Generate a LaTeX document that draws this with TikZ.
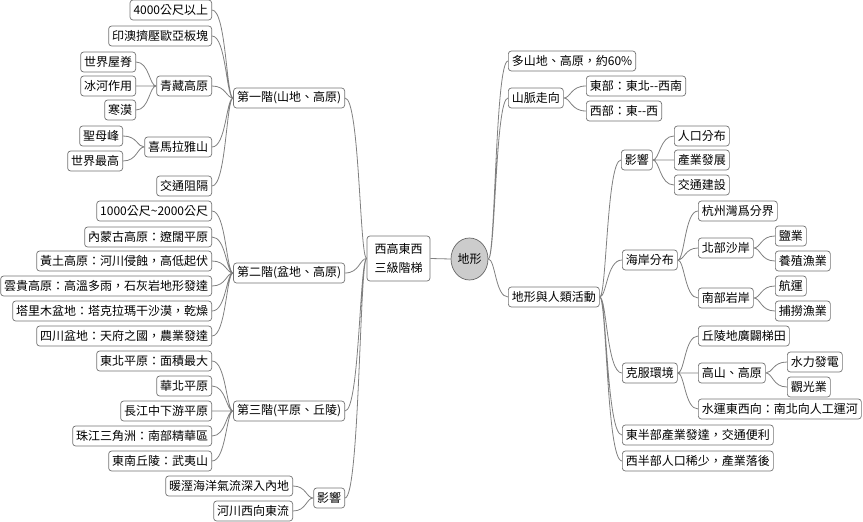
\documentclass[tikz,border=0pt]{standalone}
\usepackage{fontspec}
\setmainfont{Noto Sans CJK TC}
\usetikzlibrary{shapes.geometric}

\begin{document}
\begin{tikzpicture}[x=1pt, y=-1pt,
    % Boxes of the mind map
    topic/.style={draw=gray!90!black, fill=white, rounded corners=3pt, line width=0.7pt, minimum height=20pt, inner xsep=3.5pt, inner ysep=1pt, font=\fontsize{12}{14}\selectfont},
    ltopic/.style={topic, anchor=east},
    rtopic/.style={topic, anchor=west},
    % Curved branches, trunk close to the parent
    lbr/.style={draw=gray, line width=0.8pt, to path={.. controls ([xshift=-7pt]\tikztostart) and ([xshift=-7pt]\tikztostart |- \tikztotarget) .. (\tikztotarget)}},
    rbr/.style={draw=gray, line width=0.8pt, to path={.. controls ([xshift=7pt]\tikztostart) and ([xshift=7pt]\tikztostart |- \tikztotarget) .. (\tikztotarget)}}]
\useasboundingbox (0,0) rectangle (863,522);

% Centre
\node[draw=gray!80!black, fill=gray!40, ellipse, line width=0.7pt, minimum width=37pt, minimum height=42pt, inner sep=0pt, font=\fontsize{12}{14}\selectfont] (root) at (469.5,259) {地形};
\node[topic, minimum width=63pt, minimum height=45pt, align=center, font=\fontsize{12}{19}\selectfont] (ladder) at (398.5,258.5) {西高東西\\三級階梯};

% Left: the three steps
\node[ltopic] (one) at (345,98) {第一階(山地、高原)};
\node[ltopic] (two) at (345,273) {第二階(盆地、高原)};
\node[ltopic] (three) at (345,411) {第三階(平原、丘陵)};
\node[ltopic] (eff) at (345,498) {影響};

\node[ltopic] (a1) at (212,10) {4000公尺以上};
\node[ltopic] (a2) at (212,36) {印澳擠壓歐亞板塊};
\node[ltopic] (a3) at (212,86) {青藏高原};
\node[ltopic] (a4) at (212,147) {喜馬拉雅山};
\node[ltopic] (a5) at (212,186) {交通阻隔};
\node[ltopic] (a31) at (136,62) {世界屋脊};
\node[ltopic] (a32) at (136,86) {冰河作用};
\node[ltopic] (a33) at (136,110) {寒漠};
\node[ltopic] (a41) at (123,136) {聖母峰};
\node[ltopic] (a42) at (123,161) {世界最高};

\node[ltopic] (b1) at (212,211) {1000公尺\textasciitilde2000公尺};
\node[ltopic] (b2) at (212,237) {內蒙古高原：遼闊平原};
\node[ltopic] (b3) at (212,261) {黃土高原：河川侵蝕，高低起伏};
\node[ltopic] (b4) at (212,286) {雲貴高原：高溫多雨，石灰岩地形發達};
\node[ltopic] (b5) at (212,311) {塔里木盆地：塔克拉瑪干沙漠，乾燥};
\node[ltopic] (b6) at (212,336) {四川盆地：天府之國，農業發達};

\node[ltopic] (c1) at (212,361) {東北平原：面積最大};
\node[ltopic] (c2) at (212,386) {華北平原};
\node[ltopic] (c3) at (212,411) {長江中下游平原};
\node[ltopic] (c4) at (212,436) {珠江三角洲：南部精華區};
\node[ltopic] (c5) at (212,461) {東南丘陵：武夷山};

\node[ltopic] (e1) at (293,486) {暖溼海洋氣流深入內地};
\node[ltopic] (e2) at (293,511) {河川西向東流};

% Right: landforms and people
\node[rtopic] (r1) at (508,61) {多山地、高原，約60\%};
\node[rtopic] (r2) at (508,98) {山脈走向};
\node[rtopic] (r21) at (586,86) {東部：東北-{}-西南};
\node[rtopic] (r22) at (586,111) {西部：東-{}-西};
\node[rtopic] (r3) at (508,297) {地形與人類活動};

\node[rtopic] (h1) at (621,160) {影響};
\node[rtopic] (h11) at (674,136) {人口分布};
\node[rtopic] (h12) at (674,160) {產業發展};
\node[rtopic] (h13) at (674,185) {交通建設};

\node[rtopic] (h2) at (622,260) {海岸分布};
\node[rtopic] (h21) at (698,211) {杭州灣爲分界};
\node[rtopic] (h22) at (698,248) {北部沙岸};
\node[rtopic] (h23) at (698,298) {南部岩岸};
\node[rtopic] (h221) at (775,236) {鹽業};
\node[rtopic] (h222) at (775,261) {養殖漁業};
\node[rtopic] (h231) at (775,286) {航運};
\node[rtopic] (h232) at (775,311) {捕撈漁業};

\node[rtopic] (h3) at (622,373) {克服環境};
\node[rtopic] (h31) at (698,336) {丘陵地廣闢梯田};
\node[rtopic] (h32) at (698,373) {高山、高原};
\node[rtopic] (h33) at (698,409) {水運東西向：南北向人工運河};
\node[rtopic] (h321) at (787,362) {水力發電};
\node[rtopic] (h322) at (787,387) {觀光業};

\node[rtopic] (h4) at (622,435) {東半部產業發達，交通便利};
\node[rtopic] (h5) at (622,461) {西半部人口稀少，產業落後};

% Branches
\draw[draw=gray, line width=0.8pt] (root.west) -- (ladder.east);
\draw[lbr] (ladder.west) to (one.east) (ladder.west) to (two.east) (ladder.west) to (three.east) (ladder.west) to (eff.east);
\draw[lbr] (one.west) to (a1.east) (one.west) to (a2.east) (one.west) to (a3.east) (one.west) to (a4.east) (one.west) to (a5.east);
\draw[lbr] (a3.west) to (a31.east) (a3.west) to (a32.east) (a3.west) to (a33.east);
\draw[lbr] (a4.west) to (a41.east) (a4.west) to (a42.east);
\draw[lbr] (two.west) to (b1.east) (two.west) to (b2.east) (two.west) to (b3.east) (two.west) to (b4.east) (two.west) to (b5.east) (two.west) to (b6.east);
\draw[lbr] (three.west) to (c1.east) (three.west) to (c2.east) (three.west) to (c3.east) (three.west) to (c4.east) (three.west) to (c5.east);
\draw[lbr] (eff.west) to (e1.east) (eff.west) to (e2.east);

\draw[rbr] (root.east) to (r1.west) (root.east) to (r2.west) (root.east) to (r3.west);
\draw[rbr] (r2.east) to (r21.west) (r2.east) to (r22.west);
\draw[rbr] (r3.east) to (h1.west) (r3.east) to (h2.west) (r3.east) to (h3.west) (r3.east) to (h4.west) (r3.east) to (h5.west);
\draw[rbr] (h1.east) to (h11.west) (h1.east) to (h12.west) (h1.east) to (h13.west);
\draw[rbr] (h2.east) to (h21.west) (h2.east) to (h22.west) (h2.east) to (h23.west);
\draw[rbr] (h22.east) to (h221.west) (h22.east) to (h222.west);
\draw[rbr] (h23.east) to (h231.west) (h23.east) to (h232.west);
\draw[rbr] (h3.east) to (h31.west) (h3.east) to (h32.west) (h3.east) to (h33.west);
\draw[rbr] (h32.east) to (h321.west) (h32.east) to (h322.west);

\end{tikzpicture}
\end{document}
